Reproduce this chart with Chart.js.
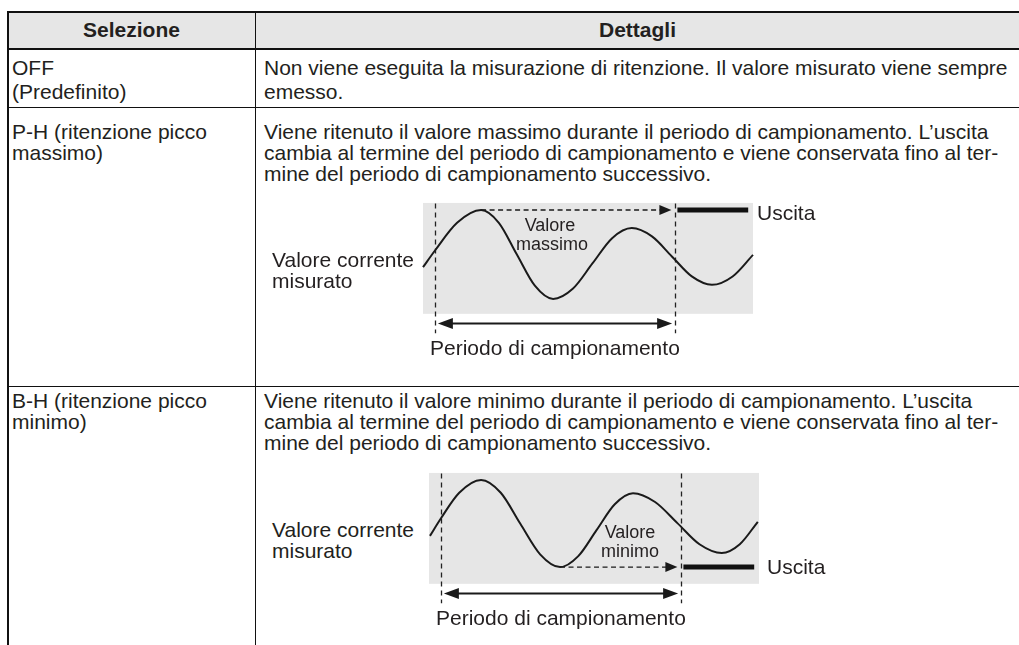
<!DOCTYPE html>
<html lang="it">
<head>
<meta charset="utf-8">
<script src="https://cdn.jsdelivr.net/npm/chart.js@4.4.1/dist/chart.umd.min.js"></script>
<style>
  html, body { margin: 0; padding: 0; background: #fff; }
  body { width: 1019px; height: 645px; position: relative; overflow: hidden;
    font-family: "Liberation Sans", Arial, Helvetica, sans-serif; font-size: 21px; color: #231f20; }
  .l { position: absolute; white-space: nowrap; line-height: 21px; }
  .b { font-weight: bold; text-align: center; }
  .s { font-size: 18px; line-height: 19px; text-align: center; width: 100px; }
  .r { position: absolute; background: #111; }
  canvas { position: absolute; }
</style>
</head>
<body>
<!-- tabella -->
<div class="r" style="left:8px;top:13px;width:1011px;height:35px;background:#e6e6e6"></div>
<div class="r" style="left:7px;top:11px;width:1012px;height:2px"></div>
<div class="r" style="left:7px;top:11px;width:2px;height:634px"></div>
<div class="r" style="left:7px;top:48px;width:1012px;height:2px"></div>
<div class="r" style="left:255px;top:13px;width:1px;height:632px"></div>
<div class="r" style="left:7px;top:107px;width:1012px;height:1px"></div>
<div class="r" style="left:7px;top:386px;width:1012px;height:1px"></div>

<div class="l b" style="left:8px;top:19px;width:247px">Selezione</div>
<div class="l b" style="left:256px;top:19px;width:763px">Dettagli</div>

<div class="l" style="left:12px;top:57px">OFF</div>
<div class="l" style="left:12px;top:81px">(Predefinito)</div>
<div class="l" style="left:264px;top:57px">Non viene eseguita la misurazione di ritenzione. Il valore misurato viene sempre</div>
<div class="l" style="left:264px;top:81px">emesso.</div>

<div class="l" style="left:12px;top:121px">P-H (ritenzione picco</div>
<div class="l" style="left:12px;top:142px">massimo)</div>
<div class="l" style="left:264px;top:121px">Viene ritenuto il valore massimo durante il periodo di campionamento. L’uscita</div>
<div class="l" style="left:264px;top:142px">cambia al termine del periodo di campionamento e viene conservata fino al ter-</div>
<div class="l" style="left:264px;top:163px">mine del periodo di campionamento successivo.</div>

<canvas id="diagMax" width="360" height="154" style="left:411px;top:188px"></canvas>
<div class="l" style="left:272px;top:249px">Valore corrente</div>
<div class="l" style="left:272px;top:270px">misurato</div>
<div class="l s" style="left:500px;top:216px">Valore</div>
<div class="l s" style="left:502px;top:235px">massimo</div>
<div class="l" style="left:757px;top:202px">Uscita</div>
<div class="l" style="left:430px;top:337px">Periodo di campionamento</div>

<div class="l" style="left:12px;top:390px">B-H (ritenzione picco</div>
<div class="l" style="left:12px;top:411px">minimo)</div>
<div class="l" style="left:264px;top:390px">Viene ritenuto il valore minimo durante il periodo di campionamento. L’uscita</div>
<div class="l" style="left:264px;top:411px">cambia al termine del periodo di campionamento e viene conservata fino al ter-</div>
<div class="l" style="left:264px;top:432px">mine del periodo di campionamento successivo.</div>

<canvas id="diagMin" width="360" height="154" style="left:417px;top:458px"></canvas>
<div class="l" style="left:272px;top:519px">Valore corrente</div>
<div class="l" style="left:272px;top:540px">misurato</div>
<div class="l s" style="left:580px;top:523px">Valore</div>
<div class="l s" style="left:580px;top:542px">minimo</div>
<div class="l" style="left:767px;top:556px">Uscita</div>
<div class="l" style="left:436px;top:607px">Periodo di campionamento</div>

<script>
// valore misurato (tempo in % del periodo di campionamento)
const tempoMax = [-5, 0, 9.2, 19.2, 26.6, 34, 41.6, 49.2, 57.4, 65.6, 73.8, 82, 90.4, 98.7, 107, 115.4, 124, 132.5];
const valoriMax = [-0.3, 0.08, 0.71, 1.0, 0.71, 0.0, -0.72, -1.02, -0.79, -0.215, 0.36, 0.59, 0.4, -0.055, -0.51, -0.7, -0.51, -0.02];
const tempoMin = [-4.6, 0, 7.6, 16.7, 24.9, 33, 41.3, 49.6, 57.2, 64.8, 72.4, 80, 89.2, 98.5, 107.7, 117, 124.5, 132];
const valoriMin = [-0.27, 0.13, 0.71, 1.0, 0.71, 0.01, -0.69, -0.98, -0.73, -0.14, 0.45, 0.7, 0.5, 0.02, -0.46, -0.66, -0.46, 0.05];
const periodo = [0, 100];
const uscitaTempo = [101, 130.5];

const NERO = '#1a1a1a';

function freccia(ctx, xTip, yc, dir, len, half) {
  ctx.beginPath();
  ctx.moveTo(xTip, yc);
  ctx.lineTo(xTip - dir * len, yc - half);
  ctx.lineTo(xTip - dir * len, yc + half);
  ctx.closePath();
  ctx.fill();
}

const decorazioni = {
  id: 'decorazioni',
  beforeDatasetsDraw(chart, args, opts) {
    const { ctx, scales: { x, y } } = chart;
    ctx.save();
    // riquadro grigio
    const x0 = x.getPixelForValue(-5), x1 = x.getPixelForValue(132.5);
    const y0 = y.getPixelForValue(1.16), y1 = y.getPixelForValue(-1.36);
    ctx.fillStyle = '#e6e6e6';
    ctx.fillRect(x0, y0, x1 - x0, y1 - y0);
    // inizio / fine periodo
    ctx.strokeStyle = '#222';
    ctx.lineWidth = 1.3;
    ctx.setLineDash([5, 4]);
    periodo.forEach(t => {
      const px = Math.round(x.getPixelForValue(t)) + 0.5;
      ctx.beginPath();
      ctx.moveTo(px, y.getPixelForValue(1.15));
      ctx.lineTo(px, y.getPixelForValue(-1.8));
      ctx.stroke();
    });
    ctx.restore();
  },
  afterDatasetsDraw(chart, args, opts) {
    const { ctx, scales: { x, y } } = chart;
    ctx.save();
    ctx.fillStyle = NERO;
    ctx.strokeStyle = NERO;
    // freccia doppia del periodo
    const ya = Math.round(y.getPixelForValue(-1.57)) + 0.5;
    const xa = x.getPixelForValue(periodo[0] + 1.2), xb = x.getPixelForValue(periodo[1] - 1.2);
    ctx.lineWidth = 2;
    ctx.beginPath();
    ctx.moveTo(xa + 8, ya);
    ctx.lineTo(xb - 8, ya);
    ctx.stroke();
    freccia(ctx, xa, ya, -1, 15, 5.5);
    freccia(ctx, xb, ya, 1, 15, 5.5);
    // punta della linea di tenuta
    freccia(ctx, x.getPixelForValue(periodo[1] - 1.5), y.getPixelForValue(opts.tenuta), 1, 12, 5);
    ctx.restore();
  }
};

function diagramma(id, tempo, valori, tipo) {
  const onda = tempo.map((t, i) => ({ x: t, y: valori[i] }));
  // valore trattenuto nel periodo
  const dentro = onda.filter(p => p.x >= periodo[0] && p.x <= periodo[1]);
  const picco = dentro.reduce((a, p) => (tipo === 'max' ? p.y > a.y : p.y < a.y) ? p : a);
  new Chart(document.getElementById(id), {
    type: 'line',
    data: {
      datasets: [
        { data: onda, borderColor: NERO, borderWidth: 2, pointRadius: 0,
          cubicInterpolationMode: 'monotone', clip: false },
        { data: [{ x: picco.x, y: picco.y }, { x: periodo[1] - 5, y: picco.y }],
          borderColor: NERO, borderWidth: 1.4, borderDash: [5, 3.5], pointRadius: 0, clip: false },
        { data: uscitaTempo.map(t => ({ x: t, y: picco.y })),
          borderColor: '#111', borderWidth: 5, borderCapStyle: 'butt', pointRadius: 0, clip: false }
      ]
    },
    options: {
      responsive: false,
      animation: false,
      devicePixelRatio: 1,
      events: [],
      layout: { padding: 0 },
      plugins: { legend: { display: false }, tooltip: { enabled: false }, decorazioni: { tenuta: picco.y } },
      scales: {
        x: { type: 'linear', min: -10, max: 140, display: false },
        y: { min: -2, max: 1.5, display: false }
      }
    },
    plugins: [decorazioni]
  });
}

diagramma('diagMax', tempoMax, valoriMax, 'max');
diagramma('diagMin', tempoMin, valoriMin, 'min');
</script>
</body>
</html>
